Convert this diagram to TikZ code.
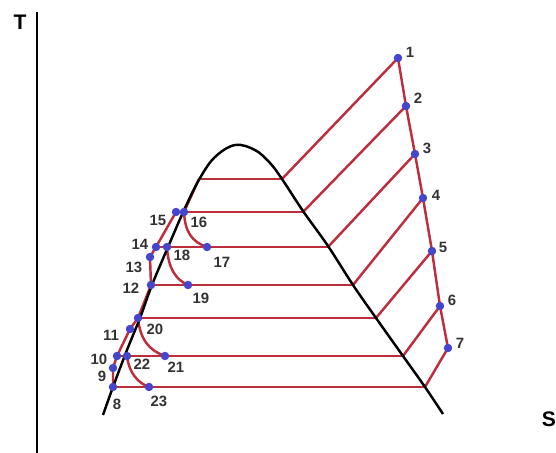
\documentclass[tikz,border=0pt]{standalone}
\usepackage{fontspec}
\setmainfont{Liberation Sans}
\definecolor{linered}{RGB}{190,45,60}
\definecolor{dotblue}{RGB}{70,70,205}
\begin{document}
\begin{tikzpicture}[x=0.02cm,y=-0.02cm,
  redl/.style={draw=linered,line width=1.4pt,line join=round},
  dot/.style={circle,fill=dotblue,inner sep=0pt,minimum size=0.17cm},
  lbl/.style={font=\bfseries\fontsize{8.5}{8.5}\selectfont,text=black!80,inner sep=0pt},
  axlbl/.style={font=\bfseries\fontsize{12}{12}\selectfont,inner sep=0pt}]
\useasboundingbox (0,0) rectangle (556,453);
\draw[line width=1.6pt] (37,12)--(37,453);
\node[axlbl] (T) at (20,22) {T};
\node[axlbl] (S) at (549,419) {S};
\coordinate (p1) at (398,58);
\coordinate (p2) at (406,106);
\coordinate (p3) at (415,154);
\coordinate (p4) at (423,198);
\coordinate (p5) at (432,251);
\coordinate (p6) at (440,306);
\coordinate (p7) at (448,348);
\coordinate (p8) at (113,387);
\coordinate (p9) at (113,368);
\coordinate (p10) at (117,356);
\coordinate (p11) at (130,329);
\coordinate (p12) at (151,285);
\coordinate (p13) at (150,257);
\coordinate (p14) at (156,247);
\coordinate (p15) at (176,212);
\coordinate (p16) at (184,212);
\coordinate (p17) at (207,247);
\coordinate (p18) at (167,247);
\coordinate (p19) at (188,285);
\coordinate (p20) at (138,318);
\coordinate (p21) at (165,356);
\coordinate (p22) at (127,356);
\coordinate (p23) at (149,387);
\coordinate (v0) at (199,179);
\coordinate (v1) at (282,179);
\coordinate (v2) at (303,212);
\coordinate (v3) at (328,247);
\coordinate (v4) at (353,285);
\coordinate (v5) at (376,318);
\coordinate (v6) at (403,356);
\coordinate (v7) at (425,387);
\draw[redl] (p1)--(p2)--(p3)--(p4)--(p5)--(p6)--(p7);
\draw[redl] (p1)--(v1);
\draw[redl] (p2)--(v2);
\draw[redl] (p3)--(v3);
\draw[redl] (p4)--(v4);
\draw[redl] (p5)--(v5);
\draw[redl] (p6)--(v6);
\draw[redl] (p7)--(v7);
\draw[redl] (v0)--(v1);
\draw[redl] (p15)--(v2);
\draw[redl] (p14)--(v3);
\draw[redl] (p12)--(v4);
\draw[redl] (p20)--(v5);
\draw[redl] (p10)--(v6);
\draw[redl] (p8)--(v7);
\draw[redl] (p8)--(p9)--(p10)--(p11)--(p20)--(p12)--(p13)--(p14)--(p15)--(p16)--(v0);
\draw[redl] (p16) .. controls (185,232) and (192,242) .. (p17);
\draw[redl] (p18) .. controls (168,268) and (176,280) .. (p19);
\draw[redl] (p20) .. controls (140,340) and (150,351) .. (p21);
\draw[redl] (p22) .. controls (129,373) and (138,383) .. (p23);
\draw[line width=1.4pt,smooth,tension=0.6] plot coordinates {(103,415) (113,387) (127,350) (140,318) (152,285) (168,247) (185,208) (200,178) (215,157) (235,145) (255,150) (270,163) (282,179) (303,211) (328,246) (353,285) (376,318) (403,356) (425,387) (443,414)};
\foreach \n in {1,...,23} \node[dot] (d\n) at (p\n) {};
\node[lbl] (l1) at (410,52) {1};
\node[lbl] (l2) at (418,98) {2};
\node[lbl] (l3) at (427,148) {3};
\node[lbl] (l4) at (436,195) {4};
\node[lbl] (l5) at (443,247) {5};
\node[lbl] (l6) at (452,300) {6};
\node[lbl] (l7) at (460,343) {7};
\node[lbl] (l8) at (117,404) {8};
\node[lbl] (l9) at (102,376) {9};
\node[lbl] (l10) at (99,359) {10};
\node[lbl] (l11) at (111,335) {11};
\node[lbl] (l12) at (131,288) {12};
\node[lbl] (l13) at (134,267) {13};
\node[lbl] (l14) at (140,244) {14};
\node[lbl] (l15) at (158,220) {15};
\node[lbl] (l16) at (199,222) {16};
\node[lbl] (l17) at (222,262) {17};
\node[lbl] (l18) at (182,255) {18};
\node[lbl] (l19) at (201,298) {19};
\node[lbl] (l20) at (155,329) {20};
\node[lbl] (l21) at (176,367) {21};
\node[lbl] (l22) at (142,364) {22};
\node[lbl] (l23) at (159,401) {23};
\end{tikzpicture}
\end{document}
